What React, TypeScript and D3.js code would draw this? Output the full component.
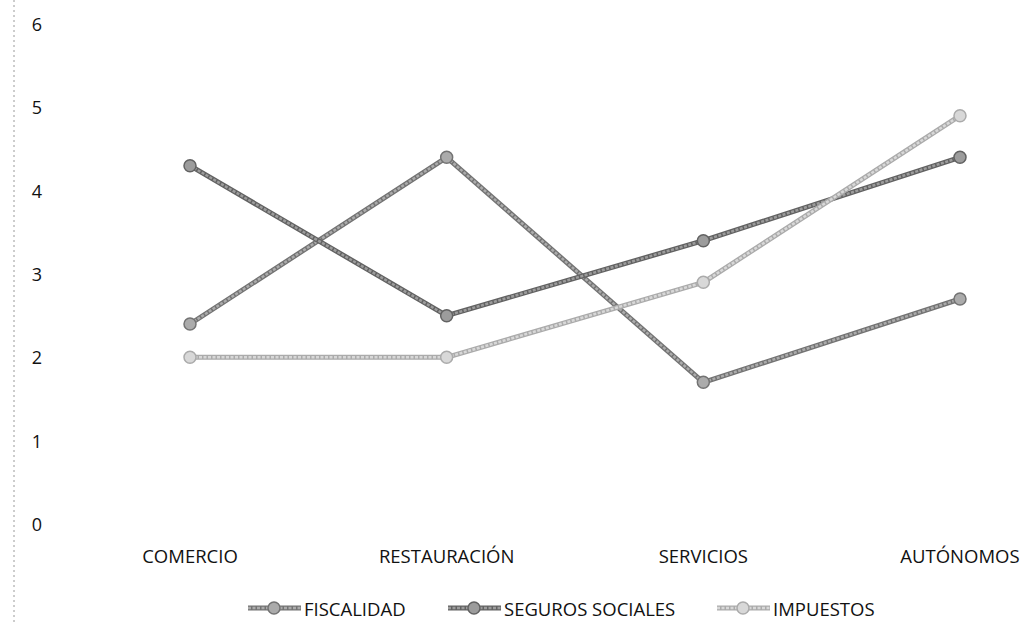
import { useEffect } from 'react';
import * as d3 from 'd3';

const CATEGORIES = ['COMERCIO', 'RESTAURACIÓN', 'SERVICIOS', 'AUTÓNOMOS'];
const FISCALIDAD = [2.4, 4.4, 1.7, 2.7];
const SEGUROS_SOCIALES = [4.3, 2.5, 3.4, 4.4];
const IMPUESTOS = [2.0, 2.0, 2.9, 4.9];
const Y_TICKS = [0, 1, 2, 3, 4, 5, 6];

type Series = {
  label: string;
  values: number[];
  edge: string;
  core: string;
};

const SERIES: Series[] = [
  { label: 'FISCALIDAD', values: FISCALIDAD, edge: '#737373', core: '#ababab' },
  { label: 'SEGUROS SOCIALES', values: SEGUROS_SOCIALES, edge: '#626262', core: '#9c9c9c' },
  { label: 'IMPUESTOS', values: IMPUESTOS, edge: '#ababab', core: '#d8d8d8' },
];

const W = 1025;
const H = 622;
const FONT = "'Open Sans', 'Noto Sans', sans-serif";

// legend slots: where each sample line starts
const LEGEND_X = [248, 448, 717];

export default function App() {
  useEffect(() => {
    document.body.style.margin = '0';
  }, []);

  const x = d3.scalePoint<string>().domain(CATEGORIES).range([190, 960]);
  const y = d3.scaleLinear().domain([0, 6]).range([524, 24]);
  const line = d3
    .line<number>()
    .x((_, i) => x(CATEGORIES[i]) as number)
    .y((d) => y(d));

  return (
    <svg width={W} height={H} style={{ display: 'block', background: '#fff' }}>
      {/* scan edge */}
      <line x1={14} x2={14} y1={0} y2={H} stroke="#9a9a9a" strokeWidth={1} strokeDasharray="2 3" />

      {Y_TICKS.map((t) => (
        <text
          key={t}
          x={37}
          y={y(t)}
          textAnchor="middle"
          dominantBaseline="central"
          fontFamily={FONT}
          fontSize={18}
          fill="#111"
        >
          {t}
        </text>
      ))}

      {CATEGORIES.map((c) => (
        <text
          key={c}
          x={x(c)}
          y={555}
          textAnchor="middle"
          dominantBaseline="central"
          fontFamily={FONT}
          fontSize={18.5}
          fill="#111"
        >
          {c}
        </text>
      ))}

      {SERIES.map((s) => (
        <g key={s.label}>
          <path d={line(s.values) ?? ''} fill="none" stroke={s.edge} strokeWidth={5} strokeLinejoin="round" />
          <path d={line(s.values) ?? ''} fill="none" stroke={s.core} strokeWidth={2.5} strokeLinejoin="round" strokeDasharray="3 1.5" />
          {s.values.map((v, i) => (
            <circle
              key={i}
              cx={x(CATEGORIES[i])}
              cy={y(v)}
              r={6}
              fill={s.core}
              stroke={s.edge}
              strokeWidth={1.5}
            />
          ))}
        </g>
      ))}

      {SERIES.map((s, i) => {
        const lx = LEGEND_X[i];
        const ly = 608;
        return (
          <g key={s.label}>
            <line x1={lx} x2={lx + 53} y1={ly} y2={ly} stroke={s.edge} strokeWidth={5} />
            <line x1={lx} x2={lx + 53} y1={ly} y2={ly} stroke={s.core} strokeWidth={2.5} strokeDasharray="3 1.5" />
            <circle cx={lx + 26} cy={ly} r={6} fill={s.core} stroke={s.edge} strokeWidth={1.5} />
            <text
              x={lx + 56}
              y={ly}
              dominantBaseline="central"
              fontFamily={FONT}
              fontSize={18.5}
              fill="#111"
            >
              {s.label}
            </text>
          </g>
        );
      })}
    </svg>
  );
}
